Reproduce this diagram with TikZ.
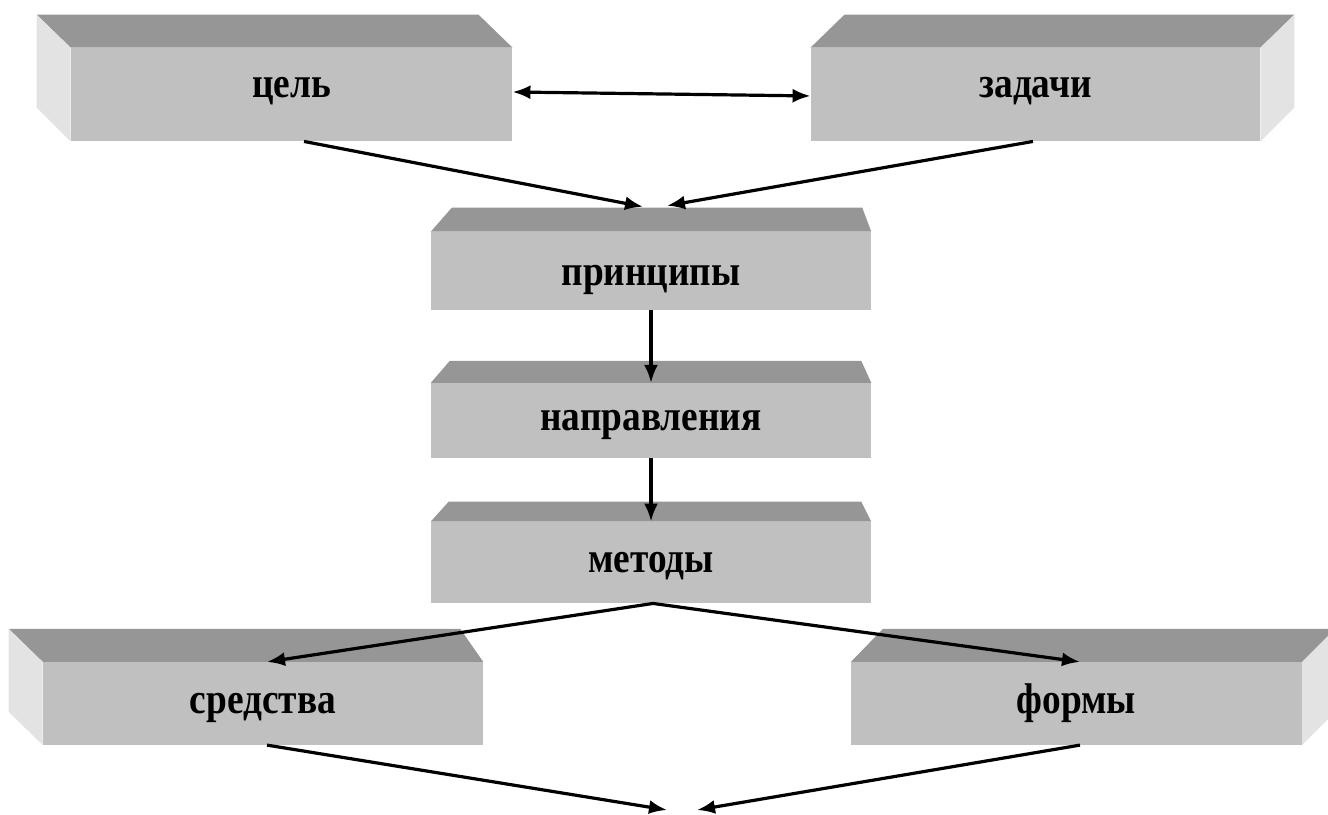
\documentclass[tikz,border=0pt]{standalone}
\usepackage{fontspec}
\setmainfont{Liberation Serif}
\usepackage{tikz}
\usetikzlibrary{arrows.meta, positioning}

\definecolor{frontgray}{HTML}{C0C0C0}
\definecolor{topgray}{HTML}{969696}
\definecolor{sidegray}{HTML}{E3E3E3}

% taller glyphs, as in the reference
\newcommand{\boxtext}[1]{\scalebox{1}[1.15]{#1}}

\begin{document}
\begin{tikzpicture}[
    x=0.75pt, y=-0.75pt,
    front/.style={
        fill=frontgray,
        rectangle,
        inner sep=0pt,
        align=center,
        text height=20pt,
        text depth=5.2pt,
        font=\fontsize{28}{32}\selectfont\bfseries
    },
    toprow/.style={text height=15pt, text depth=10.7pt},
    topface/.style={fill=topgray},
    sideface/.style={fill=sidegray},
    arrow/.style={-{Latex[length=13.5pt, width=10.5pt]}, line width=2.4pt},
    dblarrow/.style={{Latex[length=13.5pt, width=10.5pt]}-{Latex[length=13.5pt, width=10.5pt]}, line width=2.4pt}
]
\useasboundingbox (0,0) rectangle (1328,814);

% ===== Top row =====
\node[front, toprow, minimum width=331pt, minimum height=70pt] (goal) at (291.5,94.5) {\boxtext{цель}};
\fill[topface] (goal.north west) -- ++(-34,-33) -- ([shift={(-34,-33)}]goal.north east) -- (goal.north east) -- cycle;
\fill[sideface] (goal.north west) -- ++(-34,-33) -- ++(0,93) -- (goal.south west) -- cycle;

\node[front, toprow, minimum width=337pt, minimum height=70pt] (tasks) at (1035.5,94.5) {\boxtext{задачи}};
\fill[topface] (tasks.north west) -- ++(34,-33) -- ([shift={(34,-33)}]tasks.north east) -- (tasks.north east) -- cycle;
\fill[sideface] (tasks.north east) -- ++(34,-33) -- ++(0,93) -- (tasks.south east) -- cycle;

% ===== Middle column =====
\node[front, text height=28pt, text depth=5.7pt, minimum width=330pt, minimum height=58.5pt] (principles) at (651,271) {\boxtext{принципы}};
\fill[topface] (principles.north west) -- ++(21,-24) -- ([shift={(-9,-24)}]principles.north east) -- (principles.north east) -- cycle;

\node[front, minimum width=330pt, minimum height=56pt] (directions) at (651,420.5) {\boxtext{направления}};
\fill[topface] (directions.north west) -- ++(19,-22) -- ([shift={(-10,-22)}]directions.north east) -- (directions.north east) -- cycle;

\node[front, minimum width=330pt, minimum height=61pt] (methods) at (651,562.5) {\boxtext{методы}};
\fill[topface] (methods.north west) -- ++(18,-20) -- ([shift={(-10,-20)}]methods.north east) -- (methods.north east) -- cycle;

% ===== Bottom row =====
\node[front, minimum width=330pt, minimum height=62pt] (means) at (263,703.5) {\boxtext{средства}};
\fill[topface] (means.north west) -- ++(-34,-33) -- ([shift={(-23,-33)}]means.north east) -- (means.north east) -- cycle;
\fill[sideface] (means.north west) -- ++(-34,-33) -- ++(0,83) -- (means.south west) -- cycle;

\node[front, minimum width=338pt, minimum height=62pt] (forms) at (1076.5,703.5) {\boxtext{формы}};
\fill[topface] (forms.north west) -- ++(32,-33) -- ([shift={(33,-33)}]forms.north east) -- (forms.north east) -- cycle;
\fill[sideface] (forms.north east) -- ++(33,-33) -- ++(0,83) -- (forms.south east) -- cycle;

\coordinate (sink) at (682,810);

% ===== Arrows =====
\draw[dblarrow] ([yshift=1.9pt]goal.east) -- ([yshift=-1.1pt]tasks.west);

\draw[arrow] ([xshift=9.4pt]goal.south) -- ([xshift=-6pt, yshift=18.75pt]principles.north);
\draw[arrow] ([xshift=-1.9pt]tasks.south) -- ([xshift=12pt, yshift=19.5pt]principles.north);

\draw[arrow] (principles.south) -- (directions.north);
\draw[arrow] (directions.south) -- (methods.north);

\draw[arrow] ([xshift=1.5pt]methods.south) -- ([xshift=3pt]means.north);
\draw[arrow] ([xshift=1.5pt]methods.south) -- ([xshift=2.6pt]forms.north);

\draw[arrow] ([xshift=3pt]means.south) -- ([xshift=-11.25pt]sink);
\draw[arrow] ([xshift=2.6pt]forms.south) -- ([xshift=11.25pt]sink);

\end{tikzpicture}
\end{document}
